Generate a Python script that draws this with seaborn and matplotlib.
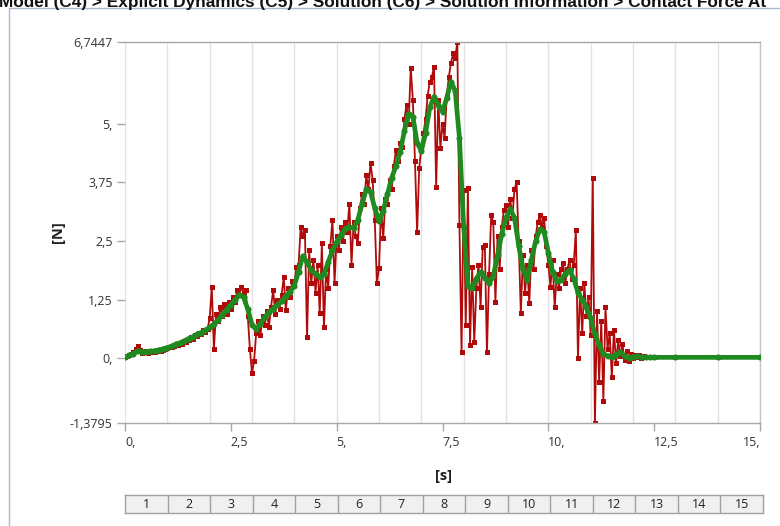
import numpy as np
import pandas as pd
import matplotlib
matplotlib.use("Agg")
import matplotlib.pyplot as plt
from matplotlib.lines import Line2D
import seaborn as sns

# ---------------- data ----------------
title_text = "Model (C4) > Explicit Dynamics (C5) > Solution (C6) > Solution Information > Contact Force At"

red_step = 0.05  # s, sampling of the raw contact-force series (0 .. 12.5 s)
red_force = [
    # 0.00 - 0.95
    0.02, 0.05, 0.08, 0.10, 0.14, 0.20, 0.26, 0.18, 0.12, 0.13, 0.15, 0.12, 0.14, 0.16, 0.13, 0.15, 0.17, 0.15, 0.18, 0.20,
    # 1.00 - 1.95
    0.22, 0.25, 0.24, 0.27, 0.30, 0.28, 0.33, 0.31, 0.36, 0.34, 0.40, 0.45, 0.42, 0.50, 0.47, 0.55, 0.52, 0.60, 0.56, 0.63,
    # 2.00 - 2.95
    0.85, 1.52, 0.20, 0.95, 0.80, 1.10, 0.90, 1.15, 0.95, 1.20, 1.05, 1.30, 1.20, 1.45, 1.35, 1.52, 1.40, 1.45, 0.90, 0.20,
    # 3.00 - 3.95
    -0.32, -0.05, 0.55, 0.80, 0.50, 0.90, 0.70, 1.00, 0.66, 1.10, 1.45, 0.95, 1.25, 1.05, 1.35, 1.73, 1.03, 1.50, 1.30, 1.65,
    # 4.00 - 4.95
    1.60, 1.95, 2.00, 2.80, 2.60, 2.73, 0.45, 2.30, 1.60, 2.10, 1.40, 2.00, 0.96, 2.45, 0.66, 1.90, 1.50, 2.40, 2.95, 1.60,
    # 5.00 - 5.95
    2.60, 2.30, 2.80, 2.50, 2.90, 2.70, 3.30, 2.00, 2.90, 2.60, 2.45, 3.20, 3.50, 3.30, 3.90, 3.60, 4.17, 3.80, 2.95, 1.60,
    # 6.00 - 6.95
    1.92, 3.20, 2.56, 3.40, 3.30, 3.80, 3.60, 4.10, 4.44, 4.20, 4.60, 4.50, 5.10, 5.40, 5.00, 6.20, 5.50, 4.20, 2.69, 4.06,
    # 7.00 - 7.95
    4.50, 4.80, 5.10, 5.60, 5.90, 6.00, 6.22, 3.65, 5.50, 4.49, 5.00, 4.70, 5.60, 6.00, 6.30, 6.50, 6.40, 6.7447, 2.84, 0.13,
    # 8.00 - 8.95
    3.59, 0.70, 3.63, 0.28, 1.94, 0.34, 1.50, 2.00, 1.10, 2.37, 2.41, 0.13, 1.80, 3.05, 2.90, 1.20, 2.60, 1.90, 2.80, 3.16,
    # 9.00 - 9.95
    3.27, 2.80, 3.40, 3.00, 3.60, 3.76, 2.50, 0.96, 2.20, 1.40, 2.00, 1.17, 2.30, 1.90, 2.60, 2.90, 3.05, 2.80, 3.00, 2.40,
    # 10.00 - 10.95
    2.00, 1.52, 2.10, 1.09, 1.80, 1.50, 1.90, 2.03, 1.60, 1.90, 2.10, 1.70, 2.00, 2.73, 0.00, 1.50, 0.53, 1.60, 0.90, 1.30,
    # 11.00 - 11.95
    0.50, 3.85, -1.3795, 1.00, -0.50, 0.80, -0.90, 1.09, 0.20, 0.53, -0.40, 0.60, -0.10, 0.38, 0.05, 0.30, -0.04, 0.15, -0.05, 0.10,
    # 12.00 - 12.50
    0.00, 0.08, 0.02, 0.06, 0.00, 0.04, 0.03, 0.02, 0.02, 0.02, 0.02,
]
red_tail_time = [13.0, 14.0, 15.0]
red_tail_force = [0.02, 0.02, 0.02]

green_step = 0.1  # s, smoothed series (0 .. 12.5 s)
green_force = [
    0.02, 0.06, 0.10, 0.16, 0.14, 0.14, 0.15, 0.16, 0.18, 0.20,   # 0.0 - 0.9
    0.23, 0.26, 0.30, 0.33, 0.37, 0.42, 0.46, 0.51, 0.55, 0.60,   # 1.0 - 1.9
    0.66, 0.73, 0.82, 0.93, 1.04, 1.14, 1.24, 1.36, 1.30, 1.05,   # 2.0 - 2.9
    0.72, 0.62, 0.74, 0.88, 0.98, 1.06, 1.14, 1.22, 1.32, 1.42,   # 3.0 - 3.9
    1.55, 1.85, 2.18, 2.05, 1.88, 1.80, 1.74, 1.80, 2.05, 2.30,   # 4.0 - 4.9
    2.48, 2.62, 2.76, 2.80, 2.78, 2.95, 3.30, 3.60, 3.55, 3.20,   # 5.0 - 5.9
    2.92, 3.15, 3.50, 3.85, 4.10, 4.40, 4.85, 5.22, 5.15, 4.60,   # 6.0 - 6.9
    4.42, 4.80, 5.35, 5.58, 5.40, 5.26, 5.55, 5.90, 5.70, 4.70,   # 7.0 - 7.9
    2.80, 1.55, 1.50, 1.70, 1.84, 1.72, 1.60, 1.75, 2.20, 2.65,   # 8.0 - 8.9
    3.00, 3.18, 3.00, 2.40, 1.90, 1.68, 2.10, 2.50, 2.75, 2.70,   # 9.0 - 9.9
    2.25, 1.85, 1.65, 1.68, 1.80, 1.88, 1.70, 1.40, 1.25, 1.10,   # 10.0 - 10.9
    0.85, 0.52, 0.28, 0.10, 0.05, 0.03, 0.08, 0.13, 0.05, 0.00,   # 11.0 - 11.9
    0.03, 0.04, 0.03, 0.02, 0.02, 0.02,                           # 12.0 - 12.5
]
green_tail_time = [13.0, 14.0, 15.0]
green_tail_force = [0.02, 0.02, 0.02]

x_ticks = [0, 2.5, 5, 7.5, 10, 12.5, 15]
x_tick_labels = ["0,", "2,5", "5,", "7,5", "10,", "12,5", "15,"]
y_ticks = [-1.3795, 0, 1.25, 2.5, 3.75, 5, 6.7447]
y_tick_labels = ["-1,3795", "0,", "1,25", "2,5", "3,75", "5,", "6,7447"]
step_labels = ["1", "2", "3", "4", "5", "6", "7", "8", "9", "10", "11", "12", "13", "14", "15"]

# ---------------- tables ----------------
red_t = list(np.round(np.arange(len(red_force)) * red_step, 3)) + red_tail_time
df_red = pd.DataFrame({"t": red_t, "F": red_force + red_tail_force})
green_t = list(np.round(np.arange(len(green_force)) * green_step, 3)) + green_tail_time
df_green = pd.DataFrame({"t": green_t, "F": green_force + green_tail_force})

# ---------------- figure ----------------
sns.set_theme(style="white")
plt.rcParams["font.family"] = ["Open Sans", "DejaVu Sans"]

W, H = 780, 526
fig = plt.figure(figsize=(W / 100, H / 100), dpi=100)
fig.patch.set_facecolor("white")

ax_l, ax_r, ax_t, ax_b = 125, 760, 42, 423
ax = fig.add_axes([ax_l / W, 1 - ax_b / H, (ax_r - ax_l) / W, (ax_b - ax_t) / H])
ax.set_facecolor("white")

for xv in range(0, 16):
    ax.axvline(xv, color="#e3e3e3", lw=1, zorder=0)

sns.lineplot(data=df_red, x="t", y="F", ax=ax, color="#b00a0a", lw=1.3,
             marker="s", markersize=3.6, markeredgewidth=0, estimator=None,
             sort=False, zorder=2)
sns.lineplot(data=df_green, x="t", y="F", ax=ax, color="#1f8a1f", lw=3.4,
             marker="o", markersize=4.4, markeredgewidth=0, estimator=None,
             sort=False, zorder=3)

ax.set_xlim(0, 15)
ax.set_ylim(-1.3795, 6.7447)
ax.set_xticks(x_ticks)
ax.set_xticklabels(x_tick_labels)
ax.set_yticks(y_ticks)
ax.set_yticklabels(y_tick_labels)
ax.grid(False)

ax.spines["left"].set_visible(False)
ax.spines["top"].set_color("#a8a8a8")
ax.spines["bottom"].set_color("#a8a8a8")
ax.spines["right"].set_color("#c4c4c4")
for s in ax.spines.values():
    s.set_linewidth(1)

ax.tick_params(axis="both", which="both", length=6, width=1, color="#a8a8a8",
               labelsize=9, labelcolor="#333333", direction="out")
ax.tick_params(axis="x", pad=3, bottom=True)
ax.tick_params(axis="y", pad=3, left=True)

xl = ax.get_xticklabels()
for i, lab in enumerate(xl):
    if i == len(xl) - 1:
        lab.set_ha("right")
    else:
        lab.set_ha("left")

ax.set_xlabel("[s]", fontweight="bold", fontsize=10.5, color="#222222")
ax.xaxis.label.set_va("center")
ax.xaxis.set_label_coords((443 - ax_l) / (ax_r - ax_l), (ax_b - 476) / (ax_b - ax_t))
ax.set_ylabel("[N]", fontweight="bold", fontsize=10.5, color="#222222")
ax.yaxis.label.set_va("center")
ax.yaxis.set_label_coords((58 - ax_l) / (ax_r - ax_l), (ax_b - 232) / (ax_b - ax_t))

# step table under the chart
tb_t, tb_b = 495, 513
tax = fig.add_axes([ax_l / W, 1 - tb_b / H, (763 - ax_l) / W, (tb_b - tb_t) / H])
tax.set_facecolor("#f0f0f0")
tax.set_xlim(0, len(step_labels))
tax.set_ylim(0, 1)
tax.set_xticks([])
tax.set_yticks([])
for s in tax.spines.values():
    s.set_color("#a0a0a0")
    s.set_linewidth(1)
for i, lab in enumerate(step_labels):
    if i > 0:
        tax.axvline(i, color="#a0a0a0", lw=1)
    tax.text(i + 0.5, 0.45, lab, ha="center", va="center", fontsize=9, color="#222222")

# frame and (clipped, as in the reference) title
fig.add_artist(Line2D([9 / W, 9 / W], [0, 1 - 8 / H], color="#aab8cf", lw=1, transform=fig.transFigure))
fig.add_artist(Line2D([9 / W, 1], [1 - 8 / H, 1 - 8 / H], color="#aab8cf", lw=1, transform=fig.transFigure))
fig.text(-1 / W, 1 - 7 / H, title_text, ha="left", va="baseline", fontsize=12.4,
         fontweight="bold", family=["Liberation Sans", "DejaVu Sans"], color="#111111")

fig.savefig("out.png", dpi=100, facecolor="white")
